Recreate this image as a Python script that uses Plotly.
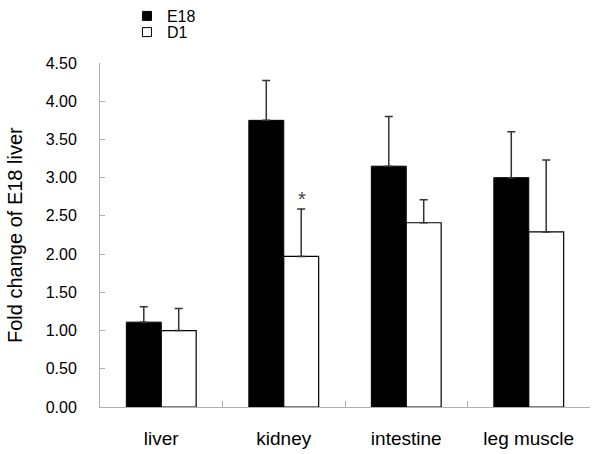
import plotly.graph_objects as go

categories = ["liver", "kidney", "intestine", "leg muscle"]
e18_values = [1.11, 3.75, 3.15, 3.00]
e18_errors = [0.20, 0.52, 0.65, 0.60]
d1_values = [1.00, 1.97, 2.41, 2.29]
d1_errors = [0.29, 0.62, 0.30, 0.94]
y_ticks = [0, 0.5, 1, 1.5, 2, 2.5, 3, 3.5, 4, 4.5]

FONT = "Liberation Sans, Arial, sans-serif"
err_color = "#333333"

fig = go.Figure()
fig.add_trace(go.Bar(
    x=categories, y=e18_values, name="E18", showlegend=False,
    marker=dict(color="black", line=dict(color="black", width=1)),
    error_y=dict(type="data", array=e18_errors, arrayminus=[0]*4, symmetric=False,
                 color=err_color, thickness=1.5, width=4),
))
fig.add_trace(go.Bar(
    x=categories, y=d1_values, name="D1", showlegend=False,
    marker=dict(color="white", line=dict(color="black", width=1.2)),
    error_y=dict(type="data", array=d1_errors, arrayminus=[0]*4, symmetric=False,
                 color=err_color, thickness=1.5, width=4),
))
# legend proxies (two legends to get tight spacing)
fig.add_trace(go.Scatter(x=[None], y=[None], mode="markers", name="E18", legend="legend",
                         marker=dict(symbol="square", size=9, color="black",
                                     line=dict(color="black", width=1))))
fig.add_trace(go.Scatter(x=[None], y=[None], mode="markers", name="D1", legend="legend2",
                         marker=dict(symbol="square", size=9, color="white",
                                     line=dict(color="black", width=1))))

fig.add_annotation(x="kidney", y=d1_values[1] + d1_errors[1], text="*",
                   showarrow=False, xshift=18, yanchor="bottom", yshift=-3,
                   font=dict(size=20, color="#444444", family=FONT))

# y-axis title as rotated annotation for exact placement
fig.add_annotation(xref="paper", yref="paper", x=-0.1735, y=0.5, text="Fold change of E18 liver",
                   textangle=-90, showarrow=False, xanchor="center", yanchor="middle",
                   font=dict(size=20, family=FONT, color="black"))

legend_common = dict(xanchor="left", yanchor="top", font=dict(size=16, family=FONT),
                     itemwidth=30, bgcolor="rgba(0,0,0,0)")

fig.update_layout(
    width=600, height=454,
    margin=dict(l=100, r=10, t=63, b=47, autoexpand=False),
    plot_bgcolor="white", paper_bgcolor="white",
    barmode="group", bargap=0.43, bargroupgap=0,
    font=dict(family=FONT, color="black", size=14),
    legend=dict(x=0.055, y=1.186, **legend_common),
    legend2=dict(x=0.055, y=1.139, **legend_common),
    xaxis=dict(showline=True, linecolor="#b0b0b0", linewidth=1,
               ticks="inside", tickson="boundaries", ticklen=6, tickcolor="#b0b0b0",
               tickfont=dict(size=19, family=FONT), showgrid=False,
               ticklabelstandoff=14, automargin=False),
    yaxis=dict(range=[0, 4.5], tickvals=y_ticks, tickformat=".2f",
               showline=True, linecolor="#b0b0b0", linewidth=1,
               ticks="inside", ticklen=5, tickcolor="#b0b0b0",
               tickfont=dict(size=16, family=FONT), showgrid=False, zeroline=False,
               ticklabelstandoff=19, automargin=False),
)

fig.write_html("out.html", config={"displayModeBar": False},
               post_script="document.body.style.margin='0';document.body.style.padding='0';")
